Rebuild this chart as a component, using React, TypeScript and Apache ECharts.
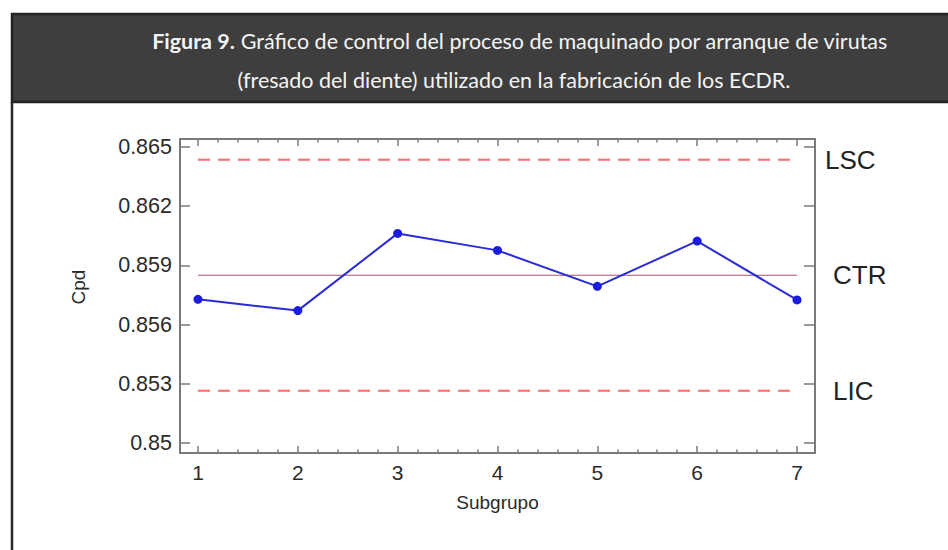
import React, { useEffect, useRef } from "react";
import * as echarts from "echarts";

const subgroups = [1, 2, 3, 4, 5, 6, 7];
const cpdValues = [0.85728, 0.85671, 0.86062, 0.85976, 0.85794, 0.86023, 0.85725];
const lscValue = 0.86435;
const ctrValue = 0.8585;
const licValue = 0.85265;
const yTickValues = [0.85, 0.853, 0.856, 0.859, 0.862, 0.865];
const xMinorSteps = [0.2, 0.4, 0.6, 0.8];

const titleLine1 = "{b|Figura 9.}{n| Gráfico de control del proceso de maquinado por arranque de virutas}";
const titleLine2 = "(fresado del diente) utilizado en la fabricación de los ECDR.";

const AXIS_COLOR = "#7a7a7a";
const LABEL_FONT = "Liberation Sans";

export default function App() {
  const ref = useRef<HTMLDivElement>(null);

  useEffect(() => {
    if (!ref.current) return;
    const chart = echarts.init(ref.current, undefined, { renderer: "svg" });

    const xMinor: number[] = [];
    for (let i = 0; i < subgroups.length - 1; i++) {
      for (const s of xMinorSteps) xMinor.push(subgroups[i] + s);
    }

    const xRange = { min: 0.82, max: 7.18 };
    const yRange = { min: 0.8495, max: 0.8654 };

    const baseX = (position: "top" | "bottom", ticks: number[], len: number, withLabels: boolean, showLine: boolean) => ({
      type: "value",
      position,
      ...xRange,
      axisLine: { show: showLine, onZero: false, lineStyle: { color: AXIS_COLOR, width: 2 } },
      axisTick: { show: true, inside: true, length: len, customValues: ticks, lineStyle: { color: AXIS_COLOR, width: 1.5 } },
      axisLabel: withLabels
        ? { show: true, customValues: subgroups, margin: 9, fontSize: 21, color: "#2a2a2a", fontFamily: LABEL_FONT }
        : { show: false },
      splitLine: { show: false },
    });

    const ctrlLine = (value: number, name: string, color: string, type: any, width: number, dist: number) => ({
      type: "line",
      data: [
        [subgroups[0], value],
        [subgroups[subgroups.length - 1], value],
      ],
      symbol: "none",
      silent: true,
      lineStyle: { color, type, width },
      endLabel: {
        show: true,
        formatter: name,
        distance: dist,
        fontSize: 26,
        color: "#222",
        fontFamily: LABEL_FONT,
      },
      z: 1,
    });

    chart.setOption({
      animation: false,
      backgroundColor: "#fff",
      grid: { left: 180, right: 133, top: 139, bottom: 97, containLabel: false },
      xAxis: [
        {
          ...baseX("bottom", subgroups, 7, true, true),
          name: "Subgrupo",
          nameLocation: "middle",
          nameGap: 40,
          nameTextStyle: { fontSize: 19, color: "#2a2a2a", fontFamily: LABEL_FONT },
        },
        baseX("bottom", xMinor, 3.5, false, false),
        baseX("top", subgroups, 7, false, true),
        baseX("top", xMinor, 3.5, false, false),
      ],
      yAxis: [
        {
          type: "value",
          position: "left",
          ...yRange,
          name: "Cpd",
          nameLocation: "middle",
          nameGap: 92,
          nameTextStyle: { fontSize: 19, color: "#2a2a2a", fontFamily: LABEL_FONT, padding: [0, 0, 0, 18] },
          axisLine: { show: true, onZero: false, lineStyle: { color: AXIS_COLOR, width: 2 } },
          axisTick: { show: true, inside: true, length: 10, customValues: yTickValues, lineStyle: { color: AXIS_COLOR, width: 1.5 } },
          axisLabel: {
            show: true,
            customValues: yTickValues,
            margin: 8,
            fontSize: 21.5,
            color: "#2a2a2a",
            fontFamily: LABEL_FONT,
            formatter: (v: number) => String(Number(v.toFixed(3))),
          },
          splitLine: { show: false },
        },
        {
          type: "value",
          position: "right",
          ...yRange,
          axisLine: { show: true, onZero: false, lineStyle: { color: AXIS_COLOR, width: 2 } },
          axisTick: { show: true, inside: true, length: 11, customValues: yTickValues, lineStyle: { color: AXIS_COLOR, width: 1.5 } },
          axisLabel: { show: false },
          splitLine: { show: false },
        },
      ],
      series: [
        ctrlLine(lscValue, "LSC", "#ff6b6b", [12, 8], 2, 28),
        ctrlLine(ctrValue, "CTR", "#b0506e", "solid", 1.2, 36),
        ctrlLine(licValue, "LIC", "#ff6b6b", [12, 8], 2, 36),
        {
          type: "line",
          data: subgroups.map((s, i) => [s, cpdValues[i]]),
          symbol: "circle",
          symbolSize: 9,
          itemStyle: { color: "#1c1ce0" },
          lineStyle: { color: "#2a2ad8", width: 2 },
          z: 3,
        },
      ],
      graphic: [
        {
          type: "rect",
          shape: { x: 12, y: 14, width: 950, height: 88 },
          style: { fill: "#3e3e3e", stroke: "#232323", lineWidth: 2.5 },
          z: 10,
        },
        {
          type: "line",
          shape: { x1: 12, y1: 102, x2: 12, y2: 560 },
          style: { stroke: "#2a2a2a", lineWidth: 2.5 },
          z: 10,
        },
        {
          type: "text",
          x: 520,
          y: 41,
          style: {
            text: titleLine1,
            align: "center",
            verticalAlign: "middle",
            rich: {
              b: { fontWeight: "bold", fontSize: 21.5, fontFamily: "Lato", fill: "#f4f4f4" },
              n: { fontSize: 21.5, fontFamily: "Lato", fill: "#f4f4f4" },
            },
          },
          z: 11,
        },
        {
          type: "text",
          x: 514,
          y: 80,
          style: {
            text: titleLine2,
            align: "center",
            verticalAlign: "middle",
            fontSize: 21.5,
            fontFamily: "Lato",
            fill: "#f4f4f4",
          },
          z: 11,
        },
      ],
    });

    return () => chart.dispose();
  }, []);

  return (
    <div
      ref={ref}
      style={{ position: "absolute", left: 0, top: 0, width: 948, height: 550, background: "#fff" }}
    />
  );
}
